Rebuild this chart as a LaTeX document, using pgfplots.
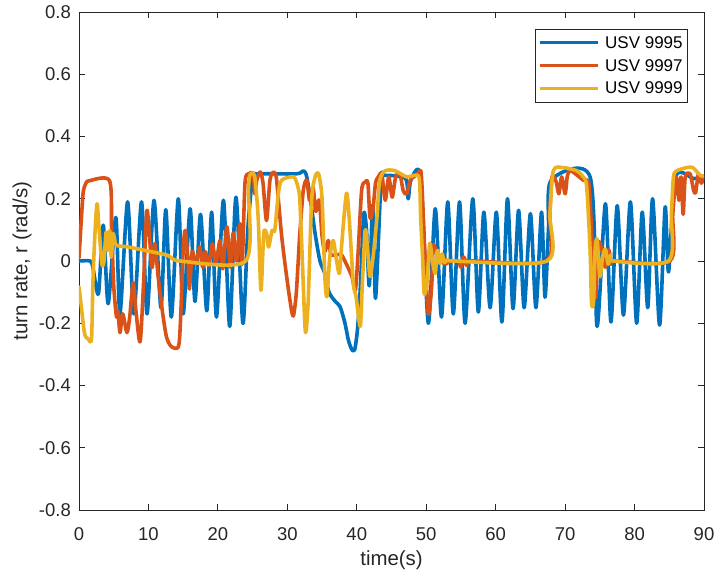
\documentclass[border=0pt]{standalone}
\usepackage{fontspec}
\setmainfont{Liberation Sans}
\usepackage{pgfplots}
\pgfplotsset{compat=1.18}
\definecolor{c1}{rgb}{0,0.447,0.741}
\definecolor{c2}{rgb}{0.850,0.325,0.098}
\definecolor{c3}{rgb}{0.929,0.694,0.125}
\definecolor{axgray}{rgb}{0.15,0.15,0.15}
\begin{document}
\begin{tikzpicture}
\useasboundingbox (-79pt,-61pt) rectangle (638pt,510pt);
\begin{axis}[
  scale only axis, width=625pt, height=498pt,
  xmin=0, xmax=90, ymin=-0.8, ymax=0.8,
  xtick={0,10,20,30,40,50,60,70,80,90},
  ytick={-0.8,-0.6,-0.4,-0.2,0,0.2,0.4,0.6,0.8},
  tick align=inside, major tick length=6pt,
  axis line style={axgray, line width=0.9pt},
  every tick/.style={axgray, line width=0.9pt},
  /pgf/number format/assume math mode=true,
  tick label style={font=\fontsize{18.5}{20}\selectfont, text=axgray},
  xticklabel style={anchor=base, inner sep=0pt, yshift=-30.6pt},
  yticklabel style={anchor=east, inner sep=0pt, xshift=-8pt},
  every axis x label/.style={at={(axis description cs:0.5,-0.1004)}, anchor=center, font=\fontsize{20.4}{22}\selectfont, text=axgray},
  every axis y label/.style={at={(axis description cs:-0.0912,0.5)}, rotate=90, anchor=center, font=\fontsize{20.4}{22}\selectfont, text=axgray},
  xlabel={time(s)},
  ylabel={turn rate, r (rad/s)},
  legend style={at={(0.9744,0.966)}, anchor=north east, draw=axgray, line width=0.7pt, fill=white,
    font=\fontsize{17}{18}\selectfont, cells={anchor=west}, row sep=5.5pt, inner ysep=5pt, inner xsep=3pt,
    /tikz/every odd column/.append style={column sep=4pt}},
  legend image code/.code={\draw[#1, line width=3pt, line cap=butt] (0pt,0pt) -- (58pt,0pt);},
  every axis plot/.append style={line width=3.6pt, line join=round, line cap=round, smooth, tension=0.45},
]
\addplot[c1] coordinates {
(0,0) (1.6,0) (2.0,-0.02) (2.8,-0.105) (3.5,0.115) (4.2,-0.137) (5.3,0.14) (5.9,-0.17)
(7.0,0.19) (7.9,-0.17) (9.0,0.19) (9.8,-0.17) (10.8,0.195) (11.8,-0.15) (12.5,0.165)
(13.3,-0.18) (14.3,0.2) (15.0,-0.17) (16.0,0.168) (16.7,-0.13) (17.5,0.15) (18.4,-0.16)
(19.1,0.157) (19.8,-0.18) (20.8,0.195) (21.7,-0.21) (22.6,0.205) (23.6,-0.2) (24.3,0.1)
(25.0,0.27) (25.5,0.28) (31.3,0.28) (32.3,0.29) (32.8,0.27) (33.5,0.17) (34.0,0.088)
(34.7,0.0) (35.4,-0.04) (36.0,-0.1) (36.9,-0.13) (37.6,-0.147) (38.3,-0.2) (38.8,-0.255)
(39.3,-0.285) (39.7,-0.285) (40.1,-0.22) (40.5,-0.09) (41.0,0.15) (41.4,0.1) (41.8,-0.08)
(42.3,0.18) (42.7,-0.12) (43.5,0.26) (44.0,0.275) (47.0,0.265) (47.4,0.2) (47.8,0.26)
(49.2,0.27) (50.3,-0.2) (51.3,0.168) (52.2,-0.18) (53.1,0.19) (53.9,-0.17) (54.8,0.19)
(55.6,-0.2) (56.7,0.2) (57.5,-0.164) (58.3,0.157) (59.2,-0.15) (60.1,0.157) (60.9,-0.196)
(61.7,0.2) (62.5,-0.153) (63.3,0.163) (64.1,-0.15) (65.0,0.152) (65.8,-0.15) (66.6,0.157)
(67.1,-0.116) (67.6,0.1) (68.0,0.26) (73.6,0.27) (74.6,-0.21) (75.8,0.184) (76.6,-0.196)
(77.5,0.178) (78.4,-0.174) (79.4,0.19) (80.3,-0.2) (81.1,0.157) (81.9,-0.15) (82.6,0.2)
(83.6,-0.206) (84.4,0.173) (84.9,-0.035) (85.9,0.27) (88.5,0.265) (90,0.27)
};
\addlegendentry{USV 9995}
\addplot[c2] coordinates {
(0,0.01) (0.3,0.12) (0.6,0.22) (1.0,0.25) (1.5,0.258) (4.4,0.258) (4.7,0.1) (5.0,-0.08)
(5.4,-0.18) (5.6,-0.16) (5.9,-0.23) (6.3,-0.17) (6.9,-0.23) (7.3,-0.18) (7.8,-0.07)
(8.2,-0.16) (8.8,-0.26) (9.3,-0.07) (9.8,0.163) (10.5,-0.02) (10.9,0.056) (11.4,-0.05)
(12.0,-0.16) (12.6,-0.244) (13.3,-0.275) (14.3,-0.276) (14.6,-0.2) (15.0,0.034) (15.3,0.098)
(15.7,0.0) (15.9,-0.09) (16.3,0.03) (16.8,-0.01) (17.4,0.045) (17.8,-0.02) (18.2,0.03)
(18.7,-0.015) (19.2,0.055) (19.7,-0.01) (20.3,0.066) (20.7,-0.025) (21.3,0.11) (21.8,-0.02)
(22.2,0.09) (22.7,0.0) (23.2,0.12) (23.5,-0.01) (23.9,0.25) (24.4,0.28) (25.1,0.28)
(25.3,0.216) (25.6,0.26) (26.1,0.286) (26.5,0.25) (27.0,0.13) (27.5,0.26) (28.0,0.286)
(28.4,0.27) (28.7,0.2) (29.2,0.077) (29.9,-0.05) (30.6,-0.158) (30.9,-0.174) (31.3,-0.1)
(31.8,0.088) (32.3,0.227) (32.8,0.26) (33.2,0.195) (33.7,0.237) (34.1,0.16) (34.6,0.195)
(35.0,0.08) (35.4,0.03) (35.9,0.066) (36.3,0.02) (37.1,0.02) (37.8,0.02) (38.5,-0.01)
(39.3,-0.05) (39.8,-0.094) (40.2,0.03) (40.7,0.227) (41.2,0.254) (41.6,0.25) (41.9,0.14)
(42.3,0.16) (42.7,0.25) (43.1,0.27) (43.6,0.28) (44.1,0.195) (44.6,0.27) (45.1,0.205)
(45.6,0.27) (46.2,0.28) (46.7,0.225) (47.2,0.216) (47.7,0.26) (48.2,0.27) (48.9,0.283)
(49.3,0.275) (49.8,0.03) (50.3,-0.17) (50.8,-0.075) (51.0,0.05) (51.5,0.03) (52.2,0.0)
(52.8,-0.01) (53.5,0.0) (54.6,0.0) (55.0,-0.02) (55.4,0.013) (55.9,-0.015) (56.4,0.0)
(67.3,0.0) (67.8,0.15) (68.1,0.27) (68.7,0.255) (69.1,0.216) (69.5,0.27) (70.0,0.216)
(70.3,0.27) (70.6,0.29) (71.2,0.285) (72.6,0.26) (73.4,0.25) (73.8,0.1) (74.1,-0.073)
(74.4,-0.115) (74.8,0.056) (75.3,0.035) (75.8,-0.02) (76.3,0.035) (76.6,-0.01) (77.0,0.0)
(85.1,0.0) (85.5,0.15) (86.0,0.27) (86.4,0.195) (86.7,0.27) (87.0,0.15) (87.3,0.27)
(88.0,0.28) (88.5,0.227) (88.8,0.22) (89.2,0.28) (89.6,0.25) (90,0.27)
};
\addlegendentry{USV 9997}
\addplot[c3] coordinates {
(0,-0.083) (0.3,-0.14) (0.8,-0.233) (1.3,-0.25) (1.8,-0.25) (2.0,-0.07) (2.3,0.09)
(2.6,0.184) (2.9,0.1) (3.3,-0.01) (3.6,0.0) (3.9,0.093) (4.15,0.034) (4.4,0.098)
(4.65,0.013) (4.9,0.088) (5.15,0.066) (5.4,0.05) (7.1,0.045) (9.5,0.034) (12.8,0.018)
(14.6,0.0) (24.0,0.0) (24.4,0.23) (24.7,0.28) (25.3,0.27) (25.8,0.14) (26.2,-0.094)
(26.6,0.088) (27.0,0.09) (27.3,0.045) (27.8,0.098) (28.2,0.1) (28.7,0.216) (29.2,0.26)
(30.9,0.27) (31.5,0.24) (31.8,0.195) (32.2,-0.02) (32.6,-0.228) (33.0,-0.13) (33.5,0.195)
(34.0,0.27) (34.5,0.28) (35.0,0.2) (35.4,-0.05) (35.7,-0.115) (36.1,0.01) (36.6,0.066)
(37.1,0.0) (37.5,-0.04) (37.8,0.045) (38.5,0.216) (38.9,0.14) (39.5,-0.07) (39.9,-0.115)
(40.5,-0.21) (40.8,-0.073) (41.2,0.098) (41.5,0.055) (41.9,-0.05) (42.4,0.023) (42.9,0.14)
(43.3,0.258) (44.1,0.29) (45.5,0.29) (47.2,0.27) (48.2,0.275) (49.0,0.265) (49.2,0.14)
(49.5,0.0) (49.7,-0.105) (50.1,-0.073) (50.5,0.056) (50.9,0.0) (51.3,-0.04) (51.6,0.034)
(52.0,-0.008) (52.3,0.023) (52.6,-0.005) (53.1,0.005) (54.0,0.0) (67.4,0.0) (67.8,0.15)
(68.3,0.29) (69.7,0.3) (71.7,0.29) (72.6,0.27) (73.1,0.24) (73.6,0.034) (73.8,-0.134)
(74.1,-0.13) (74.3,0.03) (74.6,0.07) (75.0,-0.05) (75.4,0.013) (75.8,0.038) (76.2,-0.01)
(76.6,0.02) (77.0,0.0) (84.9,0.0) (85.3,0.15) (85.6,0.27) (86.1,0.29) (87.5,0.3)
(88.4,0.3) (89.5,0.274) (90,0.274)
};
\addlegendentry{USV 9999}
\end{axis}
\end{tikzpicture}
\end{document}
